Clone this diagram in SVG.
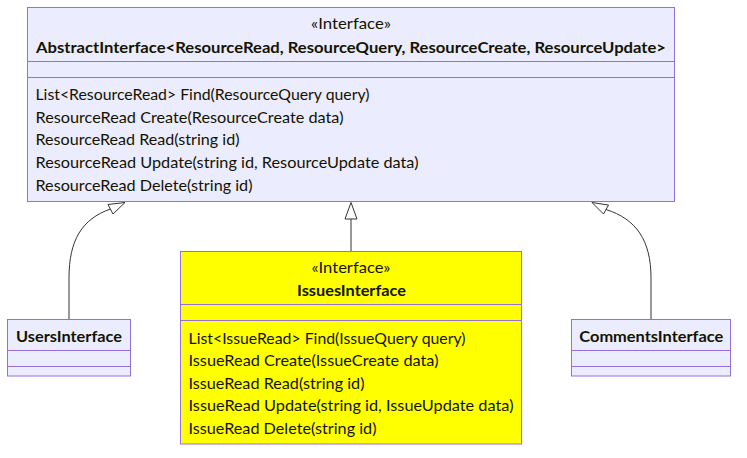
<svg xmlns="http://www.w3.org/2000/svg" width="747" height="458" viewBox="0 0 747 458">
<defs>
<style>
.box{fill:#ECECFF;stroke:#9370DB;stroke-width:1}
.ybox{fill:#FFFF00;stroke:#9370DB;stroke-width:1}
.div{stroke:#9370DB;stroke-width:1}
text{font-family:Lato,"Noto Sans","DejaVu Sans",sans-serif;font-size:16px;fill:#131300}
.c{text-anchor:middle}
.b{font-weight:bold;font-size:15px}
.s{font-size:15px}
.edge{fill:none;stroke:#333333;stroke-width:1}
.arr{fill:#FFFFFF;stroke:#333333;stroke-width:1}
</style>
</defs>
<rect width="747" height="458" fill="#FFFFFF"/>
<g id="connectors">
<path class="edge" d="M69,319 L69,278 C69,240 82,219 110.5,209"/>
<polygon class="arr" points="125,202.5 108,204.5 113,214"/>
<path class="edge" d="M351,251 L351,219"/>
<polygon class="arr" points="351,202.5 345,219 357,219"/>
<path class="edge" d="M651,319 L651,278 C651,240 636,219 606,209.5"/>
<polygon class="arr" points="592,202.5 603.5,214 608.5,205"/>
</g>
<g id="AbstractInterface">
<rect class="box" x="27.5" y="7.5" width="647" height="194"/>
<line class="div" x1="27.5" y1="61.5" x2="674.5" y2="61.5"/>
<line class="div" x1="27.5" y1="77.5" x2="674.5" y2="77.5"/>
<text class="c s" x="351" y="29" textLength="80" lengthAdjust="spacingAndGlyphs">«Interface»</text>
<text class="c b" x="351" y="53" textLength="630" lengthAdjust="spacingAndGlyphs">AbstractInterface&lt;ResourceRead, ResourceQuery, ResourceCreate, ResourceUpdate&gt;</text>
<text x="35.5" y="99.5" textLength="334" lengthAdjust="spacingAndGlyphs">List&lt;ResourceRead&gt; Find(ResourceQuery query)</text>
<text x="35.5" y="122.5" textLength="308" lengthAdjust="spacingAndGlyphs">ResourceRead Create(ResourceCreate data)</text>
<text x="35.5" y="145" textLength="204" lengthAdjust="spacingAndGlyphs">ResourceRead Read(string id)</text>
<text x="35.5" y="168" textLength="383" lengthAdjust="spacingAndGlyphs">ResourceRead Update(string id, ResourceUpdate data)</text>
<text x="35.5" y="190.5" textLength="217" lengthAdjust="spacingAndGlyphs">ResourceRead Delete(string id)</text>
</g>
<g id="IssuesInterface">
<rect class="ybox" x="180.5" y="251.5" width="341" height="192.5"/>
<line class="div" x1="180.5" y1="304.5" x2="521.5" y2="304.5"/>
<line class="div" x1="180.5" y1="320.5" x2="521.5" y2="320.5"/>
<text class="c s" x="351" y="273" textLength="79" lengthAdjust="spacingAndGlyphs">«Interface»</text>
<text class="c b" x="351.5" y="296" textLength="109" lengthAdjust="spacingAndGlyphs">IssuesInterface</text>
<text x="188.5" y="344" textLength="277" lengthAdjust="spacingAndGlyphs">List&lt;IssueRead&gt; Find(IssueQuery query)</text>
<text x="188.5" y="365.5" textLength="250" lengthAdjust="spacingAndGlyphs">IssueRead Create(IssueCreate data)</text>
<text x="188.5" y="388.5" textLength="176" lengthAdjust="spacingAndGlyphs">IssueRead Read(string id)</text>
<text x="188.5" y="411" textLength="325" lengthAdjust="spacingAndGlyphs">IssueRead Update(string id, IssueUpdate data)</text>
<text x="188.5" y="433.5" textLength="188" lengthAdjust="spacingAndGlyphs">IssueRead Delete(string id)</text>
</g>
<g id="UsersInterface">
<rect class="box" x="7.5" y="319.5" width="123" height="56.5"/>
<line class="div" x1="7.5" y1="350.5" x2="130.5" y2="350.5"/>
<line class="div" x1="7.5" y1="366.5" x2="130.5" y2="366.5"/>
<text class="c b" x="69" y="342" textLength="106" lengthAdjust="spacingAndGlyphs">UsersInterface</text>
</g>
<g id="CommentsInterface">
<rect class="box" x="571.5" y="319.5" width="159" height="56.5"/>
<line class="div" x1="571.5" y1="350.5" x2="730.5" y2="350.5"/>
<line class="div" x1="571.5" y1="366.5" x2="730.5" y2="366.5"/>
<text class="c b" x="651.3" y="342" textLength="144" lengthAdjust="spacingAndGlyphs">CommentsInterface</text>
</g>
</svg>
